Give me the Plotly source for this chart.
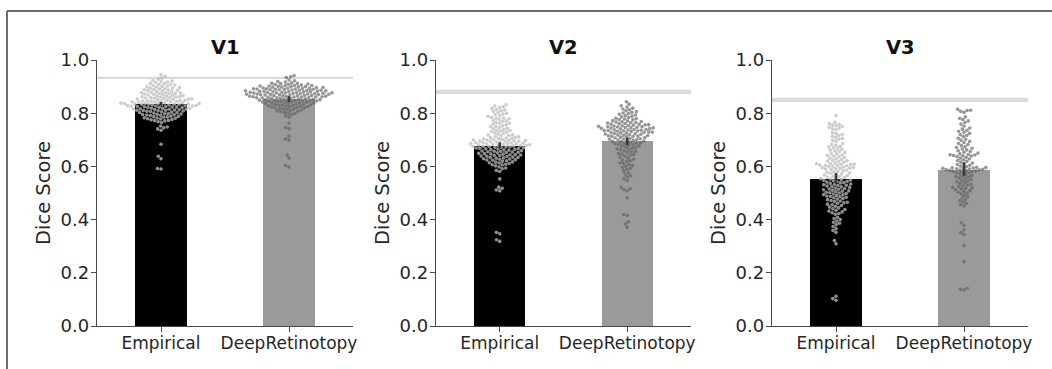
import numpy as np
import plotly.graph_objects as go

# ---------------------------------------------------------------------------
# Data
# ---------------------------------------------------------------------------
areas = ["V1", "V2", "V3"]
methods = ["Empirical", "DeepRetinotopy"]

mean_empirical = [0.835, 0.677, 0.554]
mean_deepret = [0.852, 0.694, 0.586]

ci_empirical_low = [0.829, 0.668, 0.535]
ci_empirical_high = [0.842, 0.690, 0.575]
ci_deepret_low = [0.842, 0.680, 0.565]
ci_deepret_high = [0.864, 0.708, 0.615]

# noise-ceiling band per visual area
ceiling_low = [0.929, 0.872, 0.842]
ceiling_high = [0.937, 0.888, 0.858]

y_ticks = [0.0, 0.2, 0.4, 0.6, 0.8, 1.0]

# individual participant Dice scores
v1_empirical = [
    0.945, 0.938, 0.932, 0.928,
    0.921, 0.919, 0.917, 0.923, 0.915,
    0.912, 0.909, 0.906, 0.911, 0.904, 0.908,
    0.902, 0.899, 0.897, 0.895, 0.901, 0.893, 0.898, 0.894,
    0.889, 0.887, 0.885, 0.883, 0.891, 0.886, 0.882, 0.888,
    0.879, 0.877, 0.875, 0.873, 0.881, 0.876, 0.872, 0.878, 0.874,
    0.869, 0.867, 0.865, 0.863, 0.871, 0.866, 0.862, 0.868, 0.864, 0.861,
    0.859, 0.857, 0.855, 0.853, 0.858, 0.856, 0.852, 0.854, 0.851, 0.860, 0.853,
    0.849, 0.847, 0.845, 0.843, 0.848, 0.846, 0.842, 0.844, 0.841, 0.849, 0.846, 0.843,
    0.839, 0.838, 0.837, 0.836, 0.835, 0.834, 0.833, 0.832, 0.831, 0.838, 0.836,
    0.834, 0.832, 0.837, 0.835, 0.833,
    0.829, 0.827, 0.825, 0.823, 0.821, 0.828, 0.826, 0.824, 0.822, 0.829, 0.825,
    0.821, 0.827, 0.823,
    0.819, 0.817, 0.815, 0.813, 0.811, 0.818, 0.816, 0.814, 0.812, 0.819, 0.815, 0.811,
    0.809, 0.807, 0.805, 0.803, 0.801, 0.808, 0.806, 0.804, 0.802, 0.810,
    0.799, 0.797, 0.795, 0.793, 0.791, 0.798, 0.794, 0.792, 0.796,
    0.789, 0.787, 0.785, 0.783, 0.781, 0.786, 0.782, 0.788,
    0.778, 0.775, 0.772, 0.776, 0.779, 0.773,
    0.768, 0.765, 0.771,
    0.752, 0.748, 0.745, 0.741, 0.736,
    0.683, 0.638, 0.629, 0.592, 0.590,
]

v1_deepret = [
    0.942, 0.937, 0.934,
    0.925, 0.922, 0.919, 0.917,
    0.914, 0.912, 0.910, 0.908, 0.913, 0.909, 0.911, 0.906,
    0.904, 0.902, 0.900, 0.898, 0.896, 0.903, 0.901, 0.899, 0.897, 0.895, 0.904,
    0.900, 0.902, 0.898,
    0.894, 0.892, 0.890, 0.888, 0.886, 0.893, 0.891, 0.889, 0.887, 0.885, 0.894,
    0.890, 0.892, 0.888, 0.886, 0.891,
    0.884, 0.882, 0.880, 0.878, 0.876, 0.883, 0.881, 0.879, 0.877, 0.875, 0.884,
    0.880, 0.882, 0.878, 0.876, 0.881, 0.879, 0.877,
    0.874, 0.872, 0.870, 0.868, 0.866, 0.873, 0.871, 0.869, 0.867, 0.865, 0.874,
    0.870, 0.872, 0.868, 0.866, 0.871, 0.869, 0.867,
    0.864, 0.862, 0.860, 0.858, 0.856, 0.863, 0.861, 0.859, 0.857, 0.855, 0.864,
    0.860, 0.862, 0.858, 0.856, 0.861,
    0.854, 0.852, 0.850, 0.848, 0.846, 0.853, 0.851, 0.849, 0.847, 0.845, 0.852,
    0.848, 0.850, 0.846,
    0.844, 0.842, 0.840, 0.838, 0.836, 0.843, 0.841, 0.839, 0.837, 0.835, 0.842, 0.838,
    0.834, 0.832, 0.830, 0.828, 0.826, 0.833, 0.831, 0.829, 0.827, 0.825,
    0.824, 0.822, 0.820, 0.818, 0.816, 0.823, 0.819, 0.817,
    0.814, 0.811, 0.808, 0.805, 0.812, 0.807,
    0.803, 0.799, 0.801, 0.796,
    0.790, 0.786,
    0.762, 0.746, 0.742, 0.714, 0.703, 0.699, 0.643, 0.631, 0.603, 0.598,
]

v2_empirical = [
    0.832, 0.827,
    0.824, 0.821, 0.818, 0.815,
    0.812, 0.809, 0.806,
    0.803, 0.800, 0.797, 0.794,
    0.791, 0.788, 0.785, 0.782,
    0.779, 0.776, 0.773, 0.781,
    0.769, 0.766, 0.763, 0.771,
    0.759, 0.756, 0.753, 0.761,
    0.749, 0.746, 0.743, 0.751,
    0.739, 0.736, 0.733, 0.741, 0.735,
    0.729, 0.726, 0.723, 0.731, 0.725,
    0.719, 0.716, 0.713, 0.711, 0.715, 0.718,
    0.709, 0.706, 0.703, 0.701, 0.705, 0.708, 0.702, 0.707,
    0.699, 0.697, 0.695, 0.693, 0.691, 0.698, 0.696, 0.694, 0.692, 0.699, 0.695,
    0.689, 0.687, 0.685, 0.683, 0.681, 0.688, 0.686, 0.684, 0.682, 0.689, 0.685, 0.681,
    0.679, 0.677, 0.675, 0.673, 0.671, 0.678, 0.676, 0.674, 0.672, 0.679, 0.675,
    0.669, 0.667, 0.665, 0.663, 0.661, 0.668, 0.666, 0.664, 0.662, 0.670,
    0.659, 0.657, 0.655, 0.653, 0.651, 0.658, 0.654, 0.652, 0.656,
    0.649, 0.647, 0.645, 0.643, 0.641, 0.648, 0.644, 0.642, 0.646,
    0.639, 0.637, 0.635, 0.633, 0.631, 0.638, 0.634, 0.632,
    0.629, 0.627, 0.625, 0.623, 0.621, 0.628, 0.624,
    0.619, 0.616, 0.613, 0.611, 0.617, 0.614,
    0.608, 0.605, 0.602, 0.606,
    0.598, 0.594, 0.591,
    0.585, 0.581,
    0.553, 0.522, 0.518, 0.511, 0.508, 0.352, 0.347, 0.324, 0.318,
]

v2_deepret = [
    0.843,
    0.834, 0.828,
    0.823, 0.819, 0.816,
    0.813, 0.809, 0.806,
    0.803, 0.799, 0.796, 0.801,
    0.793, 0.789, 0.786, 0.791, 0.784,
    0.781, 0.778, 0.775, 0.772, 0.779, 0.776,
    0.769, 0.767, 0.765, 0.763, 0.761, 0.768, 0.764, 0.771,
    0.759, 0.757, 0.755, 0.753, 0.751, 0.758, 0.756, 0.754, 0.752, 0.760,
    0.749, 0.747, 0.745, 0.743, 0.741, 0.748, 0.746, 0.744, 0.742, 0.749, 0.745,
    0.739, 0.737, 0.735, 0.733, 0.731, 0.738, 0.736, 0.734, 0.732, 0.739, 0.735,
    0.729, 0.727, 0.725, 0.723, 0.721, 0.728, 0.726, 0.724, 0.722, 0.729,
    0.719, 0.717, 0.715, 0.713, 0.711, 0.718, 0.716, 0.714, 0.712,
    0.709, 0.707, 0.705, 0.703, 0.701, 0.708, 0.704, 0.702,
    0.699, 0.697, 0.695, 0.693, 0.691, 0.698, 0.694,
    0.689, 0.687, 0.685, 0.683, 0.681, 0.686,
    0.679, 0.676, 0.673, 0.671, 0.677,
    0.668, 0.665, 0.662, 0.666,
    0.659, 0.655, 0.652, 0.657,
    0.648, 0.645, 0.642, 0.646,
    0.638, 0.634, 0.631,
    0.627, 0.624, 0.621,
    0.618, 0.614, 0.611,
    0.607, 0.603, 0.601,
    0.597, 0.593,
    0.588, 0.584,
    0.576, 0.572,
    0.565, 0.561,
    0.553, 0.547,
    0.521, 0.516, 0.512, 0.508,
    0.482, 0.419, 0.416, 0.392, 0.383, 0.371,
]

v3_empirical = [
    0.791,
    0.766, 0.761, 0.758, 0.755, 0.753, 0.750, 0.747, 0.744, 0.741, 0.738,
    0.727, 0.724, 0.720, 0.716, 0.713, 0.709, 0.705, 0.702, 0.698, 0.694,
    0.686, 0.682, 0.679, 0.676, 0.673, 0.670, 0.667, 0.664, 0.661, 0.658, 0.655, 0.652,
    0.648, 0.646, 0.643, 0.641, 0.638, 0.636, 0.633, 0.631, 0.628, 0.626, 0.623,
    0.621, 0.618, 0.616, 0.620,
    0.613, 0.611, 0.610, 0.608, 0.607, 0.605, 0.604, 0.602, 0.601, 0.599, 0.598,
    0.596, 0.595, 0.593, 0.592, 0.590, 0.589, 0.594, 0.603, 0.609,
    0.586, 0.584, 0.582, 0.580, 0.578, 0.576, 0.574, 0.572, 0.570, 0.568, 0.566,
    0.564, 0.562, 0.560, 0.558,
    0.556, 0.554, 0.553, 0.551, 0.549, 0.548, 0.546, 0.544, 0.543, 0.541, 0.539,
    0.538, 0.536, 0.534, 0.533, 0.531, 0.529, 0.528, 0.526, 0.524, 0.523, 0.521,
    0.519, 0.517, 0.515, 0.514, 0.512, 0.510, 0.508, 0.507, 0.505, 0.503, 0.501,
    0.500, 0.498, 0.496, 0.494, 0.493, 0.491, 0.489, 0.487, 0.486, 0.484, 0.482,
    0.479, 0.477, 0.475, 0.472, 0.470, 0.468, 0.465, 0.463, 0.461, 0.458, 0.456,
    0.453, 0.450, 0.447, 0.444, 0.441, 0.438, 0.435, 0.432, 0.429, 0.426, 0.423, 0.420,
    0.409, 0.404, 0.400, 0.395, 0.390, 0.386, 0.381,
    0.374, 0.366, 0.359, 0.352,
    0.321, 0.309,
    0.112, 0.103, 0.097,
]

v3_deepret = [
    0.815, 0.811, 0.807, 0.803, 0.810,
    0.786, 0.781, 0.776, 0.771, 0.765, 0.759, 0.752,
    0.744, 0.740, 0.736, 0.732, 0.728, 0.724, 0.720, 0.716, 0.712,
    0.706, 0.702, 0.698, 0.694, 0.690, 0.686, 0.682, 0.678, 0.674, 0.671,
    0.668, 0.665, 0.662, 0.659, 0.656, 0.653, 0.650, 0.647, 0.645, 0.643, 0.641,
    0.639, 0.637, 0.644, 0.640,
    0.634, 0.631, 0.628, 0.625, 0.622, 0.619, 0.616, 0.613, 0.610, 0.607, 0.604, 0.601,
    0.599, 0.597, 0.595, 0.594, 0.592, 0.591, 0.589, 0.588, 0.586, 0.585, 0.583,
    0.582, 0.590, 0.587, 0.584, 0.593, 0.596, 0.581,
    0.578, 0.575, 0.572, 0.569, 0.566, 0.563, 0.560, 0.557, 0.554, 0.551, 0.548,
    0.545, 0.542, 0.576, 0.561,
    0.539, 0.536, 0.533, 0.530, 0.527, 0.524, 0.521, 0.518, 0.515, 0.512, 0.509,
    0.506, 0.503, 0.500, 0.520,
    0.496, 0.491, 0.486, 0.481, 0.476, 0.471, 0.466, 0.461, 0.456, 0.451,
    0.388, 0.379, 0.362, 0.351, 0.344, 0.303, 0.242, 0.142, 0.138, 0.135,
]

scores = {
    "V1": (v1_empirical, v1_deepret),
    "V2": (v2_empirical, v2_deepret),
    "V3": (v3_empirical, v3_deepret),
}

# ---------------------------------------------------------------------------
# Layout geometry (pixels) and styling
# ---------------------------------------------------------------------------
W, H = 1052, 369
panel_px = [(97, 353), (436, 691), (772, 1028)]
plot_top_px, plot_bottom_px = 60, 326
x_range = [-0.5, 1.5]
bar_width = 0.4

bar_colors = ["#000000", "#9a9a9a"]
dot_colors = ["rgba(188,188,188,0.76)", "rgba(96,96,96,0.66)"]
axis_color = "#4a4a4a"
text_color = "#262626"
font_family = "DejaVu Sans, Verdana, sans-serif"
dot_size = 3.6


def swarm_offsets(values, px_per_y, px_per_x, d):
    """Beeswarm layout: place each point as close to the centre as possible
    without overlapping earlier (lower) points. Returns offsets in x units."""
    y = np.asarray(values, dtype=float) * px_per_y
    order = np.argsort(y, kind="stable")
    xs = np.zeros(len(y))
    placed = []
    for i in order:
        yi = y[i]
        neigh = [(px, py) for px, py in placed if abs(py - yi) < d]
        cands = [0.0]
        for px, py in neigh:
            dx = np.sqrt(max(d * d - (yi - py) ** 2, 0.0))
            cands += [px - dx, px + dx]
        cands.sort(key=lambda c: (abs(c), c))
        for c in cands:
            if all((c - px) ** 2 + (yi - py) ** 2 >= d * d - 1e-6 for px, py in neigh):
                xs[i] = c
                break
        placed.append((xs[i], yi))
    return xs / px_per_x


fig = go.Figure()

px_per_y = plot_bottom_px - plot_top_px
y_domain = [(H - plot_bottom_px) / H, (H - plot_top_px) / H]

layout_axes = {}
annotations = []
shapes = []

for k, area in enumerate(areas):
    sfx = "" if k == 0 else str(k + 1)
    xa, ya = "x" + sfx, "y" + sfx
    x0, x1 = panel_px[k]
    px_per_x = (x1 - x0) / (x_range[1] - x_range[0])

    means = [mean_empirical[k], mean_deepret[k]]
    fig.add_trace(go.Bar(
        x=[0, 1], y=means, width=bar_width,
        marker=dict(color=bar_colors, line=dict(width=0)),
        xaxis=xa, yaxis=ya, showlegend=False, hoverinfo="skip",
    ))

    for j in range(2):
        vals = scores[area][j]
        offs = swarm_offsets(vals, px_per_y, px_per_x, dot_size)
        fig.add_trace(go.Scatter(
            x=j + offs, y=vals, mode="markers",
            marker=dict(size=dot_size, color=dot_colors[j], line=dict(width=0)),
            xaxis=xa, yaxis=ya, showlegend=False, hoverinfo="skip",
        ))

    lows = [ci_empirical_low[k], ci_deepret_low[k]]
    highs = [ci_empirical_high[k], ci_deepret_high[k]]
    fig.add_trace(go.Scatter(
        x=[0, 0, None, 1, 1, None], y=[lows[0], highs[0], None, lows[1], highs[1], None],
        mode="lines", line=dict(color="#3a3a3a", width=2.6),
        xaxis=xa, yaxis=ya, showlegend=False, hoverinfo="skip",
    ))

    x_dom = [x0 / W, x1 / W]
    layout_axes["xaxis" + sfx] = dict(
        domain=x_dom, range=x_range, anchor=ya,
        tickmode="array", tickvals=[0, 1], ticktext=methods,
        showline=True, linecolor=axis_color, linewidth=1.3,
        ticks="outside", ticklen=5, tickwidth=1.3, tickcolor=axis_color,
        ticklabelstandoff=-4,
        tickfont=dict(family=font_family, size=17, color=text_color),
        showgrid=False, zeroline=False, automargin=False, fixedrange=True,
    )
    layout_axes["yaxis" + sfx] = dict(
        domain=y_domain, range=[0, 1], anchor=xa,
        tickmode="array", tickvals=y_ticks, ticktext=[f"{t:.1f}" for t in y_ticks],
        showline=True, linecolor=axis_color, linewidth=1.3,
        ticks="outside", ticklen=5, tickwidth=1.3, tickcolor=axis_color,
        ticklabelstandoff=-2,
        tickfont=dict(family=font_family, size=18, color=text_color),
        showgrid=False, zeroline=False, automargin=False, fixedrange=True,
    )

    # noise ceiling band
    shapes.append(dict(
        type="rect", xref=xa + " domain", yref=ya,
        x0=0, x1=1, y0=ceiling_low[k], y1=ceiling_high[k],
        fillcolor="#dadada", line=dict(width=0), layer="below",
    ))

    # panel title
    annotations.append(dict(
        text=f"<b>{area}</b>", xref="paper", yref="paper",
        x=(x_dom[0] + x_dom[1]) / 2, y=(H - 47) / H,
        xanchor="center", yanchor="middle", showarrow=False,
        font=dict(family=font_family, size=19.5, color="#111111"),
    ))
    # y-axis title
    annotations.append(dict(
        text="Dice Score", xref="paper", yref="paper",
        x=(x0 - 54) / W, y=(H - (plot_top_px + plot_bottom_px) / 2) / H,
        xanchor="center", yanchor="middle", textangle=-90, showarrow=False,
        font=dict(family=font_family, size=19.5, color=text_color),
    ))

# outer frame
shapes.append(dict(type="line", xref="paper", yref="paper",
                   x0=7 / W, x1=1, y0=(H - 11) / H, y1=(H - 11) / H,
                   line=dict(color="#6e6e6e", width=2)))
shapes.append(dict(type="line", xref="paper", yref="paper",
                   x0=7 / W, x1=7 / W, y0=0, y1=(H - 11) / H,
                   line=dict(color="#6e6e6e", width=2)))

fig.update_layout(
    width=W, height=H, autosize=False,
    margin=dict(l=0, r=0, t=0, b=0),
    template="none",
    paper_bgcolor="white", plot_bgcolor="white",
    bargap=0, showlegend=False,
    annotations=annotations, shapes=shapes,
    **layout_axes,
)

fig.write_html("out.html")
